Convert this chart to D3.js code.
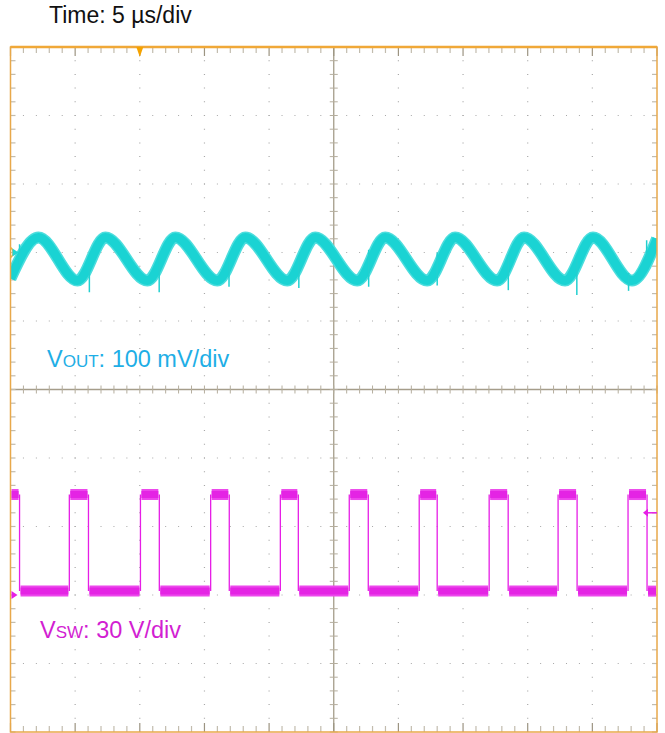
<!DOCTYPE html>
<html>
<head>
<meta charset="utf-8">
<script src="https://cdn.jsdelivr.net/npm/d3@7"></script>
<style>
  html, body { margin: 0; padding: 0; background: #fff; }
  svg { display: block; font-family: "Liberation Sans", Arial, sans-serif; }
</style>
</head>
<body>
<div id="chart"></div>
<script>
// V_OUT ripple vertices (time in µs, value in mV relative to channel marker)
const voutTimes = [0, 2.16, 5.18, 7.34, 10.59, 12.75, 16.0, 18.16, 21.41, 23.57, 26.82,
                   28.98, 32.23, 34.39, 37.64, 39.72, 42.89, 45.05, 48.07, 50];
const voutMv    = [-38, 22, -41, 22, -41, 22, -41, 22, -41, 22, -41,
                   22, -41, 22, -41, 22, -41, 22, -41, 20];
// switching spikes on V_OUT (time µs, low mV, high mV)
const spikeTimes = [0.7, 6.1, 11.5, 16.9, 22.3, 27.7, 33.0, 38.5, 43.8, 47.8, 49.2];
const spikeLow   = [-18, -58, -58, -50, -52, -50, -48, -55, -62, -56, -10];
const spikeHigh  = [ 12, -20, -10, -14, -4, 4, 0, -4, -8, -30, 18];

// V_SW edges (µs) and levels (V)
const swRise = [4.55, 10.05, 15.48, 20.87, 26.2, 31.61, 37.02, 42.35, 47.76];
const swFall = [0.7, 6.03, 11.51, 16.92, 22.26, 27.67, 33.0, 38.49, 43.82, 49.23];
const swHigh = 44;
const swLow = 1.7;
const swTrig = 36;

// channel settings
const timePerDiv = 5;      // µs
const voutPerDiv = 100;    // mV
const vswPerDiv = 30;      // V
const voutOffset = 2;      // div above centre
const vswOffset = -3;      // div below centre
const trigTime = 10;       // µs

const width = 665, height = 733;
const frame = { left: 10.5, right: 657, top: 47, bottom: 732 };

const svg = d3.select("#chart").append("svg")
  .attr("width", width).attr("height", height);

// scales
const x = d3.scaleLinear().domain([0, 10 * timePerDiv]).range([frame.left, frame.right]);
const yDiv = d3.scaleLinear().domain([-5, 5]).range([frame.bottom, frame.top]);
const gx = d3.scaleLinear().domain([0, 10]).range([frame.left, frame.right]);
const yOut = v => yDiv(voutOffset + v / voutPerDiv);
const ySw = v => yDiv(vswOffset + v / vswPerDiv);

// ---- graticule ----
const grid = svg.append("g");
const subs = d3.range(0, 50.001, 1);
const dotX = `1 ${(gx(0.2) - gx(0)) - 1}`;
const dotY = `1 ${(yDiv(0) - yDiv(0.2)) - 1}`;

// dotted division lines
[1, 2, 3, 4, 6, 7, 8, 9].forEach(d => {
  grid.append("line")
    .attr("x1", gx(d)).attr("x2", gx(d))
    .attr("y1", frame.top).attr("y2", frame.bottom)
    .attr("stroke", "#a8a8a8").attr("stroke-width", 1.2)
    .attr("stroke-dasharray", dotY).attr("stroke-dashoffset", 0.5);
  grid.append("line")
    .attr("y1", yDiv(d - 5)).attr("y2", yDiv(d - 5))
    .attr("x1", frame.left).attr("x2", frame.right)
    .attr("stroke", "#a8a8a8").attr("stroke-width", 1.2)
    .attr("stroke-dasharray", dotX).attr("stroke-dashoffset", 0.5);
});

// centre axes
const axisCol = "#a59d8a";
grid.append("line").attr("x1", gx(5)).attr("x2", gx(5))
  .attr("y1", frame.top).attr("y2", frame.bottom)
  .attr("stroke", axisCol).attr("stroke-width", 1.3);
grid.append("line").attr("y1", yDiv(0)).attr("y2", yDiv(0))
  .attr("x1", frame.left).attr("x2", frame.right)
  .attr("stroke", axisCol).attr("stroke-width", 1.3);

subs.forEach(i => {
  const xs = gx(i / 5), ys = yDiv(i / 5 - 5);
  const major = i % 5 === 0;
  // ticks on centre axes
  grid.append("line").attr("x1", xs).attr("x2", xs)
    .attr("y1", yDiv(0) - 4).attr("y2", yDiv(0) + 4)
    .attr("stroke", "#b5ae9e").attr("stroke-width", 1);
  grid.append("line").attr("y1", ys).attr("y2", ys)
    .attr("x1", gx(5) - 4).attr("x2", gx(5) + 4)
    .attr("stroke", "#b5ae9e").attr("stroke-width", 1);
  // ticks on frame
  const len = major ? 9 : 6;
  grid.append("line").attr("x1", xs).attr("x2", xs)
    .attr("y1", frame.top).attr("y2", frame.top + len)
    .attr("stroke", major ? "#9c9482" : "#c2bcae").attr("stroke-width", 1.2);
  grid.append("line").attr("x1", xs).attr("x2", xs)
    .attr("y1", frame.bottom).attr("y2", frame.bottom - len)
    .attr("stroke", major ? "#9c9482" : "#c2bcae").attr("stroke-width", 1.2);
  grid.append("line").attr("y1", ys).attr("y2", ys)
    .attr("x1", frame.left).attr("x2", frame.left + 5)
    .attr("stroke", "#c2bcae").attr("stroke-width", 1.2);
  grid.append("line").attr("y1", ys).attr("y2", ys)
    .attr("x1", frame.right).attr("x2", frame.right - 5)
    .attr("stroke", "#c2bcae").attr("stroke-width", 1.2);
});

// clip for traces
svg.append("clipPath").attr("id", "clip").append("rect")
  .attr("x", frame.left).attr("y", frame.top)
  .attr("width", frame.right - frame.left).attr("height", frame.bottom - frame.top);
const traces = svg.append("g").attr("clip-path", "url(#clip)");

// ---- V_OUT trace ----
const voutData = voutTimes.map((t, i) => ({ t, v: voutMv[i] }));
const voutLine = d3.line().x(d => x(d.t)).y(d => yOut(d.v)).curve(d3.curveMonotoneX);
traces.append("path").datum(voutData)
  .attr("d", voutLine).attr("fill", "none")
  .attr("stroke", "#4cdddd").attr("stroke-width", 12).attr("stroke-linejoin", "round");
traces.append("path").datum(voutData)
  .attr("d", voutLine).attr("fill", "none")
  .attr("stroke", "#1ad3d3").attr("stroke-width", 9).attr("stroke-linejoin", "round");
traces.selectAll(".spike").data(spikeTimes).enter().append("line")
  .attr("x1", d => x(d)).attr("x2", d => x(d))
  .attr("y1", (d, i) => yOut(spikeLow[i])).attr("y2", (d, i) => yOut(spikeHigh[i]))
  .attr("stroke", "#22d0d0").attr("stroke-width", 1.5);

// ---- V_SW trace ----
const swMag = "#e61ee6";
// build segments from edges
const edges = swFall.map(t => ({ t, type: "fall" }))
  .concat(swRise.map(t => ({ t, type: "rise" })))
  .sort((a, b) => a.t - b.t);
const segs = [];
let prev = 0, level = swHigh;
edges.forEach(e => {
  segs.push({ t0: prev, t1: e.t, v: level });
  prev = e.t;
  level = e.type === "fall" ? swLow : swHigh;
});
segs.push({ t0: prev, t1: 50, v: level });

traces.selectAll(".band").data(segs).enter().append("line")
  .attr("x1", d => x(d.t0) + 1).attr("x2", d => x(d.t1) - 1)
  .attr("y1", d => ySw(d.v)).attr("y2", d => ySw(d.v))
  .attr("stroke", "#ec48ec").attr("stroke-width", 11);
traces.selectAll(".core").data(segs).enter().append("line")
  .attr("x1", d => x(d.t0) + 1).attr("x2", d => x(d.t1) - 1)
  .attr("y1", d => ySw(d.v)).attr("y2", d => ySw(d.v))
  .attr("stroke", "#e424e4").attr("stroke-width", 7);
traces.selectAll(".edge").data(edges).enter().append("line")
  .attr("x1", d => x(d.t)).attr("x2", d => x(d.t))
  .attr("y1", ySw(swLow)).attr("y2", ySw(swHigh))
  .attr("stroke", swMag).attr("stroke-width", 1.3);

// ---- frame ----
svg.append("rect")
  .attr("x", frame.left).attr("y", frame.top)
  .attr("width", frame.right - frame.left).attr("height", frame.bottom - frame.top)
  .attr("fill", "none").attr("stroke", "#e8a84a").attr("stroke-width", 1.5);
svg.append("line").attr("x1", frame.left).attr("x2", frame.right)
  .attr("y1", frame.top).attr("y2", frame.top)
  .attr("stroke", "#f0a838").attr("stroke-width", 2.5);

// markers
const tx = x(trigTime);
svg.append("path")
  .attr("d", `M${tx - 3.5},${frame.top}L${tx + 3.5},${frame.top}L${tx},${frame.top + 10}Z`)
  .attr("fill", "#f5a300");
const y1m = yOut(0);
svg.append("path")
  .attr("d", `M${frame.left},${y1m - 5}A6,6 0 0 1 ${frame.left},${y1m + 5}`)
  .attr("fill", "none").attr("stroke", "#f0b040").attr("stroke-width", 1.5);
svg.append("path")
  .attr("d", `M${frame.left + 2},${y1m - 4}L${frame.left + 8},${y1m}L${frame.left + 2},${y1m + 4}Z`)
  .attr("fill", "#22d6d6");
const y2m = ySw(0);
svg.append("path")
  .attr("d", `M${frame.left + 1},${y2m - 4}L${frame.left + 7},${y2m}L${frame.left + 1},${y2m + 4}Z`)
  .attr("fill", swMag);
const ytm = ySw(swTrig);
svg.append("path")
  .attr("d", `M${frame.right - 14},${ytm}L${frame.right - 9},${ytm - 4}L${frame.right - 9},${ytm + 4}Z`)
  .attr("fill", swMag);
svg.append("line").attr("x1", frame.right - 10).attr("x2", frame.right)
  .attr("y1", ytm).attr("y2", ytm).attr("stroke", swMag).attr("stroke-width", 1.5);

// ---- labels ----
svg.append("text").attr("x", 49).attr("y", 23)
  .attr("font-size", 23).attr("fill", "#111").text("Time: 5 µs/div");

const t1 = svg.append("text").attr("x", 47).attr("y", 367)
  .attr("font-size", 23.5).attr("fill", "#1eaee6");
t1.append("tspan").text("V");
t1.append("tspan").attr("font-size", 17).text("OUT");
t1.append("tspan").text(": 100 mV/div");

const t2 = svg.append("text").attr("x", 40).attr("y", 638)
  .attr("font-size", 23.5).attr("fill", "#d21ed2");
t2.append("tspan").text("V");
t2.append("tspan").attr("font-size", 17).text("SW");
t2.append("tspan").text(": 30 V/div");
</script>
</body>
</html>
